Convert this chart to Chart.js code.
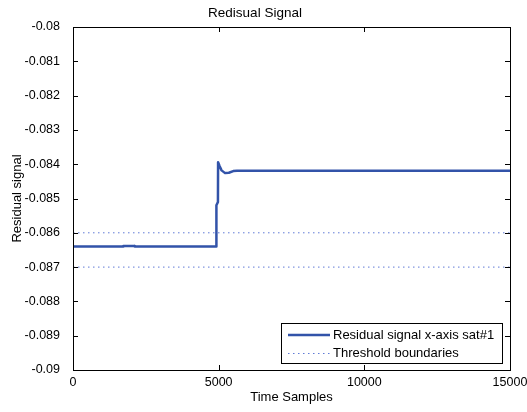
<!DOCTYPE html>
<html>
<head>
<meta charset="utf-8">
<script src="https://cdn.jsdelivr.net/npm/chart.js@4.4.1/dist/chart.umd.min.js"></script>
<style>
  html, body { margin: 0; padding: 0; background: #fff; }
  #wrap { width: 527px; height: 412px; }
</style>
</head>
<body>
<div id="wrap"><canvas id="residualChart" width="527" height="412"></canvas></div>
<script>
// residual signal
var sampleTimes    = [0, 1720, 1730, 2110, 2120, 4915, 4920, 4925, 4975, 4980, 5030, 5100, 5220, 5350, 5500, 5630, 15000];
var residualValues = [-0.0864, -0.0864, -0.086385, -0.086385, -0.0864, -0.0864, -0.0864, -0.0852, -0.0851, -0.08394, -0.08405, -0.08418, -0.08426, -0.08425, -0.0842, -0.08419, -0.08419];

// threshold boundaries
var thresholdTimes = [0, 15000];
var upperThreshold = [-0.086, -0.086];
var lowerThreshold = [-0.087, -0.087];

// axis ticks
var xTicks = [0, 5000, 10000, 15000];
var xTickLabels = ['0', '5000', '10000', '15000'];
var yTicks = [-0.09, -0.089, -0.088, -0.087, -0.086, -0.085, -0.084, -0.083, -0.082, -0.081, -0.08];
var yTickLabels = ['-0.09', '-0.089', '-0.088', '-0.087', '-0.086', '-0.085', '-0.084', '-0.083', '-0.082', '-0.081', '-0.08'];

var legendLabels = ['Residual signal x-axis sat#1', 'Threshold boundaries'];

var signalColor = '#3253a9';
var thresholdColor = '#5f7ad6';

function toPoints(xs, ys) {
  return xs.map(function (x, i) { return { x: x, y: ys[i] }; });
}

// MATLAB style box with ticks pointing inwards
var frameTicks = {
  id: 'frameTicks',
  afterDatasetsDraw: function (chart) {
    var c = chart.ctx, a = chart.chartArea;
    var xs = chart.scales.x, ys = chart.scales.y;
    c.save();
    c.strokeStyle = '#000';
    c.lineWidth = 1;
    c.strokeRect(Math.round(a.left) + 0.5, Math.round(a.top) + 0.5, Math.round(a.right - a.left), Math.round(a.bottom - a.top));
    c.beginPath();
    xTicks.forEach(function (v) {
      var px = Math.round(xs.getPixelForValue(v)) + 0.5;
      c.moveTo(px, a.bottom); c.lineTo(px, a.bottom - 5);
      c.moveTo(px, a.top); c.lineTo(px, a.top + 5);
    });
    yTicks.forEach(function (v) {
      var py = Math.round(ys.getPixelForValue(v)) + 0.5;
      c.moveTo(a.left, py); c.lineTo(a.left + 5, py);
      c.moveTo(a.right, py); c.lineTo(a.right - 5, py);
    });
    c.stroke();
    c.restore();
  }
};

// legend box inside the plot, bottom right
var boxLegend = {
  id: 'boxLegend',
  afterDraw: function (chart) {
    var c = chart.ctx;
    var x0 = 281.5, y0 = 323.5, w = 221, h = 40;
    c.save();
    c.fillStyle = '#fff';
    c.fillRect(x0, y0, w, h);
    c.strokeStyle = '#000';
    c.lineWidth = 1;
    c.strokeRect(x0, y0, w, h);

    c.strokeStyle = signalColor;
    c.lineWidth = 2.5;
    c.beginPath(); c.moveTo(288, 335); c.lineTo(330, 335); c.stroke();

    c.strokeStyle = thresholdColor;
    c.lineWidth = 1;
    c.setLineDash([1.5, 3.5]);
    c.beginPath(); c.moveTo(288, 353.5); c.lineTo(330, 353.5); c.stroke();
    c.setLineDash([]);

    c.fillStyle = '#000';
    c.font = '13px "Liberation Sans", Arial, sans-serif';
    c.textBaseline = 'middle';
    c.fillText(legendLabels[0], 333, 335);
    c.fillText(legendLabels[1], 333, 353);
    c.restore();
  }
};

var ctx = document.getElementById('residualChart').getContext('2d');
new Chart(ctx, {
  type: 'line',
  data: {
    datasets: [{
      label: legendLabels[0],
      data: toPoints(sampleTimes, residualValues),
      borderColor: signalColor,
      borderWidth: 2.5,
      borderJoinStyle: 'round',
      pointRadius: 0,
      tension: 0
    }, {
      label: legendLabels[1],
      data: toPoints(thresholdTimes, upperThreshold),
      borderColor: thresholdColor,
      borderWidth: 1,
      borderDash: [1.5, 3.5],
      pointRadius: 0
    }, {
      label: legendLabels[1],
      data: toPoints(thresholdTimes, lowerThreshold),
      borderColor: thresholdColor,
      borderWidth: 1,
      borderDash: [1.5, 3.5],
      pointRadius: 0
    }]
  },
  options: {
    responsive: false,
    animation: false,
    devicePixelRatio: 1,
    layout: { padding: { left: 0, right: 17, top: 0, bottom: 0 } },
    plugins: {
      legend: { display: false },
      tooltip: { enabled: false },
      title: {
        display: true,
        text: 'Redisual Signal',
        color: '#000',
        font: { family: '"Liberation Sans", Arial, sans-serif', size: 13.5, weight: 'normal', lineHeight: 1.2 },
        padding: { top: 5, bottom: 5.8 }
      }
    },
    scales: {
      x: {
        type: 'linear',
        min: 0,
        max: 15000,
        grid: { display: false },
        border: { display: false },
        afterBuildTicks: function (scale) {
          scale.ticks = xTicks.map(function (v) { return { value: v }; });
        },
        afterFit: function (scale) { scale.height = 42; },
        ticks: {
          color: '#000',
          padding: -3,
          maxRotation: 0,
          font: { family: '"Liberation Sans", Arial, sans-serif', size: 12.5 },
          callback: function (value, index) { return xTickLabels[index]; }
        },
        title: {
          display: true,
          text: 'Time Samples',
          color: '#000',
          font: { family: '"Liberation Sans", Arial, sans-serif', size: 13, lineHeight: 1.2 },
          padding: { top: 0, bottom: 7.2 }
        }
      },
      y: {
        type: 'linear',
        min: -0.09,
        max: -0.08,
        grid: { display: false },
        border: { display: false },
        afterBuildTicks: function (scale) {
          scale.ticks = yTicks.map(function (v) { return { value: v }; });
        },
        afterFit: function (scale) { scale.width = 73; },
        ticks: {
          color: '#000',
          padding: 5,
          font: { family: '"Liberation Sans", Arial, sans-serif', size: 12.5 },
          callback: function (value, index) { return yTickLabels[index]; }
        },
        title: {
          display: true,
          text: 'Residual signal',
          color: '#000',
          font: { family: '"Liberation Sans", Arial, sans-serif', size: 13, lineHeight: 1.2 },
          padding: { top: 10, bottom: 0 }
        }
      }
    }
  },
  plugins: [frameTicks, boxLegend]
});
</script>
</body>
</html>
